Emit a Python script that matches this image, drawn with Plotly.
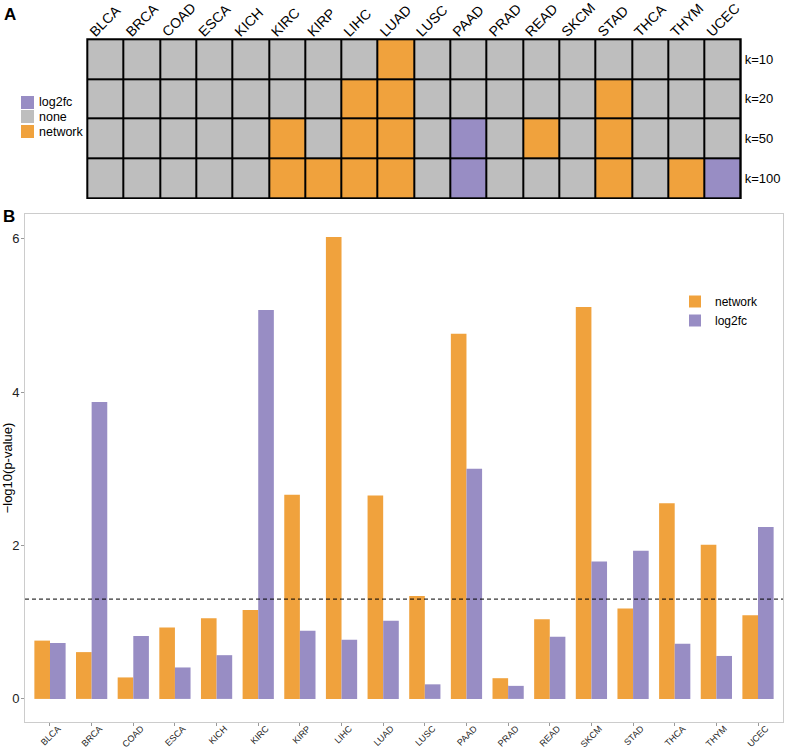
import plotly.graph_objects as go

# ---------------- data ----------------
cancers = ["BLCA", "BRCA", "COAD", "ESCA", "KICH", "KIRC", "KIRP", "LIHC", "LUAD",
           "LUSC", "PAAD", "PRAD", "READ", "SKCM", "STAD", "THCA", "THYM", "UCEC"]
k_labels = ["k=10", "k=20", "k=50", "k=100"]

status_k10 = ["none", "none", "none", "none", "none", "none", "none", "none", "network",
              "none", "none", "none", "none", "none", "none", "none", "none", "none"]
status_k20 = ["none", "none", "none", "none", "none", "none", "none", "network", "network",
              "none", "none", "none", "none", "none", "network", "none", "none", "none"]
status_k50 = ["none", "none", "none", "none", "none", "network", "none", "network", "network",
              "none", "log2fc", "none", "network", "none", "network", "none", "none", "none"]
status_k100 = ["none", "none", "none", "none", "none", "network", "network", "network", "network",
               "none", "log2fc", "none", "none", "none", "network", "none", "network", "log2fc"]

network_vals = [0.76, 0.61, 0.28, 0.93, 1.05, 1.16, 2.66, 6.02, 2.65,
                1.34, 4.76, 0.27, 1.04, 5.11, 1.18, 2.55, 2.01, 1.09]
log2fc_vals = [0.73, 3.87, 0.82, 0.41, 0.57, 5.07, 0.89, 0.77, 1.02,
               0.19, 3.00, 0.17, 0.81, 1.79, 1.93, 0.72, 0.56, 2.24]
threshold = 1.30103  # -log10(0.05)

legend_levels = ["log2fc", "none", "network"]

# ---------------- style ----------------
ORANGE = "#F0A23D"
PURPLE = "#988DC4"
GREY = "#BEBEBE"
FONT = "Liberation Sans"
level_colors = {"log2fc": PURPLE, "none": GREY, "network": ORANGE}
level_code = {"log2fc": 0, "none": 1, "network": 2}

rows = [status_k10, status_k20, status_k50, status_k100]
z = [[level_code[s] for s in r] for r in rows]
colorscale = [[0, PURPLE], [0.25, PURPLE], [0.25, GREY], [0.75, GREY], [0.75, ORANGE], [1, ORANGE]]

W, H = 787, 749


def px(xw):
    return xw / W


def py(yw):
    return 1 - yw / H


fig = go.Figure()

fig.add_trace(go.Heatmap(
    x=cancers, y=k_labels, z=z, zmin=0, zmax=2, colorscale=colorscale,
    showscale=False, xgap=2, ygap=2, xaxis="x", yaxis="y", hoverinfo="skip"))

fig.add_trace(go.Bar(x=cancers, y=network_vals, name="network", marker_color=ORANGE,
                     marker_line_width=0, xaxis="x2", yaxis="y2", legend="legend"))
fig.add_trace(go.Bar(x=cancers, y=log2fc_vals, name="log2fc", marker_color=PURPLE,
                     marker_line_width=0, xaxis="x2", yaxis="y2", legend="legend"))

ymax = max(max(network_vals), max(log2fc_vals))
pad = 0.05 * ymax

# heatmap key built from the level list
key_annotations = []
for i, lvl in enumerate(legend_levels):
    yc = py(102.5 + i * 14.5)
    key_annotations.append(dict(
        text="", x=px(21), y=yc, xref="paper", yref="paper", xanchor="left",
        yanchor="middle", showarrow=False, width=13, height=13,
        bgcolor=level_colors[lvl], borderpad=0, borderwidth=0))
    key_annotations.append(dict(
        text=lvl, x=px(37), y=yc, xref="paper", yref="paper", xanchor="left",
        yanchor="middle", showarrow=False, font=dict(size=12.5)))

fig.update_layout(
    width=W, height=H, autosize=False,
    margin=dict(l=0, r=0, t=0, b=0),
    paper_bgcolor="white", plot_bgcolor="white",
    font=dict(family=FONT, color="black"),
    barmode="group", bargap=0.25, bargroupgap=0,
    xaxis=dict(domain=[px(87.3), px(740.7)], anchor="y", side="top", tickangle=-45,
               tickfont=dict(size=14), ticks="", showgrid=False, zeroline=False,
               showline=False, automargin=False, ticklabelshift=-15,
               ticklabelstandoff=-4),
    yaxis=dict(domain=[py(198), py(39.3)], anchor="x", side="right",
               autorange="reversed", tickfont=dict(size=13), ticks="",
               showgrid=False, zeroline=False, showline=False, automargin=False,
               ticklabelstandoff=3),
    xaxis2=dict(domain=[px(25), px(783)], anchor="y2", range=[-0.6, 17.6],
                tickangle=-45, tickfont=dict(size=9, color="#222"), ticks="outside",
                ticklen=3, tickcolor="#999", showgrid=False, zeroline=False,
                showline=True, mirror=True, linecolor="#cccccc", linewidth=1,
                automargin=False, ticklabelshift=8, ticklabelstandoff=-6),
    yaxis2=dict(domain=[py(722), py(214)], anchor="x2",
                range=[-pad, ymax + pad], tickvals=[0, 2, 4, 6],
                tickfont=dict(size=13, color="#222"), ticks="outside", ticklen=3,
                tickcolor="#999", showgrid=False, zeroline=False,
                showline=True, mirror=True, linecolor="#cccccc", linewidth=1,
                automargin=False, ticklabelstandoff=-1,
                title=dict(text="−log10(p-value)", font=dict(size=13), standoff=2)),
    legend=dict(x=px(675), y=py(287), xanchor="left", yanchor="top",
                font=dict(size=12), bgcolor="rgba(0,0,0,0)"),
    shapes=[
        dict(type="rect", xref="x domain", yref="y domain", x0=0, x1=1, y0=0, y1=1,
             fillcolor="black", line=dict(color="black", width=2), layer="below"),
        dict(type="line", xref="x2 domain", yref="y2", x0=0, x1=1, y0=threshold, y1=threshold,
             line=dict(color="black", width=1, dash="4px,3px")),
    ],
    annotations=[
        dict(text="<b>A</b>", x=px(2), y=py(14), xref="paper", yref="paper",
             xanchor="left", yanchor="middle", showarrow=False, font=dict(size=17)),
        dict(text="<b>B</b>", x=px(1), y=py(217), xref="paper", yref="paper",
             xanchor="left", yanchor="middle", showarrow=False, font=dict(size=17)),
    ] + key_annotations,
)

# remove the default page margin so the figure sits at the window's top-left corner
fig.write_html("out.html", config={"displayModeBar": False, "staticPlot": True},
               post_script="document.body.style.margin='0px';")
